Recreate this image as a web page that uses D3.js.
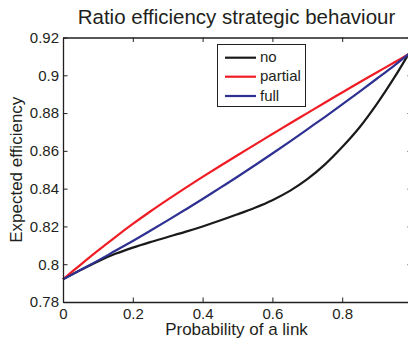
<!DOCTYPE html>
<html>
<head>
<meta charset="utf-8">
<script src="https://cdn.jsdelivr.net/npm/d3@7/dist/d3.min.js"></script>
<style>
  html, body { margin: 0; padding: 0; background: #fff; }
  svg { display: block; font-family: "Liberation Sans", Arial, Helvetica, sans-serif; }
</style>
</head>
<body>
<svg id="chart" width="408" height="343"></svg>
<script>
// Probability of a link (x) and expected efficiency for each strategy
const probability = [0, 0.05, 0.1, 0.15, 0.2, 0.25, 0.3, 0.35, 0.4, 0.45, 0.5,
                     0.55, 0.6, 0.65, 0.7, 0.75, 0.8, 0.85, 0.9, 0.95, 0.99];
const noStrategy = [0.7920, 0.7969, 0.8015, 0.8055, 0.8088, 0.8117, 0.8144, 0.8171, 0.8200, 0.8231, 0.8264,
                    0.8299, 0.8339, 0.8388, 0.8450, 0.8527, 0.8620, 0.8725, 0.8850, 0.8990, 0.9112];
const partialStrategy = [0.7920, 0.7997, 0.8072, 0.8144, 0.8213, 0.8279, 0.8342, 0.8403, 0.8462, 0.8520, 0.8577,
                         0.8633, 0.8689, 0.8745, 0.8800, 0.8855, 0.8909, 0.8963, 0.9016, 0.9069, 0.9111];
const fullStrategy = [0.7920, 0.7969, 0.8019, 0.8071, 0.8123, 0.8177, 0.8232, 0.8288, 0.8345, 0.8404, 0.8463,
                      0.8524, 0.8586, 0.8649, 0.8714, 0.8779, 0.8846, 0.8914, 0.8983, 0.9053, 0.9112];

const seriesNames = ["no", "partial", "full"];
const seriesColors = ["#1a1a1a", "#f01c24", "#2e3192"];
const seriesValues = [noStrategy, partialStrategy, fullStrategy];

const xTicks = [0, 0.2, 0.4, 0.6, 0.8];
const xTickLabels = ["0", "0.2", "0.4", "0.6", "0.8"];
const yTicks = [0.78, 0.8, 0.82, 0.84, 0.86, 0.88, 0.9, 0.92];
const yTickLabels = ["0.78", "0.8", "0.82", "0.84", "0.86", "0.88", "0.9", "0.92"];

const titleText = "Ratio efficiency strategic behaviour";
const xLabel = "Probability of a link";
const yLabel = "Expected efficiency";

const svg = d3.select("#chart");
const plotLeft = 63, plotRight = 412, plotTop = 37.5, plotBottom = 302;
const axisColor = "#231f20";

const x = d3.scaleLinear().domain([0, 1]).range([plotLeft, plotRight]);
const y = d3.scaleLinear().domain([0.78, 0.92]).range([plotBottom, plotTop]);

// curves
const line = d3.line().x(d => x(d[0])).y(d => y(d[1])).curve(d3.curveCatmullRom.alpha(0.5));
const curves = svg.append("g");
[0, 1, 2].forEach(i => {
  curves.append("path")
    .datum(probability.map((p, k) => [p, seriesValues[i][k]]))
    .attr("d", line)
    .attr("fill", "none")
    .attr("stroke", seriesColors[i])
    .attr("stroke-width", 2.2)
    .attr("stroke-linejoin", "round");
});

// axes with inward ticks on all four sides
const tickLen = 4.5;
const fontTick = 15;

const xAxis = svg.append("g").attr("transform", `translate(0,${plotBottom})`)
  .call(d3.axisBottom(x).tickValues(xTicks)
    .tickFormat((d, i) => xTickLabels[i])
    .tickSizeInner(-tickLen).tickSizeOuter(0).tickPadding(6));
const xAxisTop = svg.append("g").attr("transform", `translate(0,${plotTop})`)
  .call(d3.axisTop(x).tickValues(xTicks).tickFormat("")
    .tickSizeInner(-tickLen).tickSizeOuter(0));
const yAxis = svg.append("g").attr("transform", `translate(${plotLeft},0)`)
  .call(d3.axisLeft(y).tickValues(yTicks)
    .tickFormat((d, i) => yTickLabels[i])
    .tickSizeInner(-tickLen).tickSizeOuter(0).tickPadding(4));
const yAxisRight = svg.append("g").attr("transform", `translate(${plotRight},0)`)
  .call(d3.axisRight(y).tickValues(yTicks).tickFormat("")
    .tickSizeInner(-tickLen).tickSizeOuter(0));

[xAxis, xAxisTop, yAxis, yAxisRight].forEach(g => {
  g.selectAll("path.domain").attr("stroke", axisColor).attr("stroke-width", 1.3);
  g.selectAll(".tick line").attr("stroke", axisColor).attr("stroke-width", 1);
  g.selectAll(".tick text").attr("fill", axisColor)
    .style("font-size", fontTick + "px")
    .style("font-family", "'Liberation Sans', Arial, sans-serif");
});

// title and axis labels
svg.append("text")
  .attr("x", (plotLeft + plotRight) / 2 - 1).attr("y", 24)
  .attr("text-anchor", "middle")
  .attr("fill", axisColor)
  .style("font-size", "20.5px")
  .text(titleText);

svg.append("text")
  .attr("x", (plotLeft + plotRight) / 2 - 1).attr("y", 335)
  .attr("text-anchor", "middle")
  .attr("fill", axisColor)
  .style("font-size", "17px")
  .text(xLabel);

svg.append("text")
  .attr("transform", `translate(22,${(plotTop + plotBottom) / 2}) rotate(-90)`)
  .attr("text-anchor", "middle")
  .attr("fill", axisColor)
  .style("font-size", "17px")
  .text(yLabel);

// legend
const legend = svg.append("g");
legend.append("rect")
  .attr("x", 217.5).attr("y", 44.5).attr("width", 88).attr("height", 62)
  .attr("fill", "#fff").attr("stroke", axisColor).attr("stroke-width", 1);
const legendRows = [57.7, 76.7, 96];
seriesNames.forEach((name, i) => {
  legend.append("line")
    .attr("x1", 225).attr("x2", 256)
    .attr("y1", legendRows[i]).attr("y2", legendRows[i])
    .attr("stroke", seriesColors[i]).attr("stroke-width", 2.2);
  legend.append("text")
    .attr("x", 260).attr("y", legendRows[i] + 4.5)
    .attr("fill", axisColor)
    .style("font-size", "15px")
    .text(name);
});
</script>
</body>
</html>
